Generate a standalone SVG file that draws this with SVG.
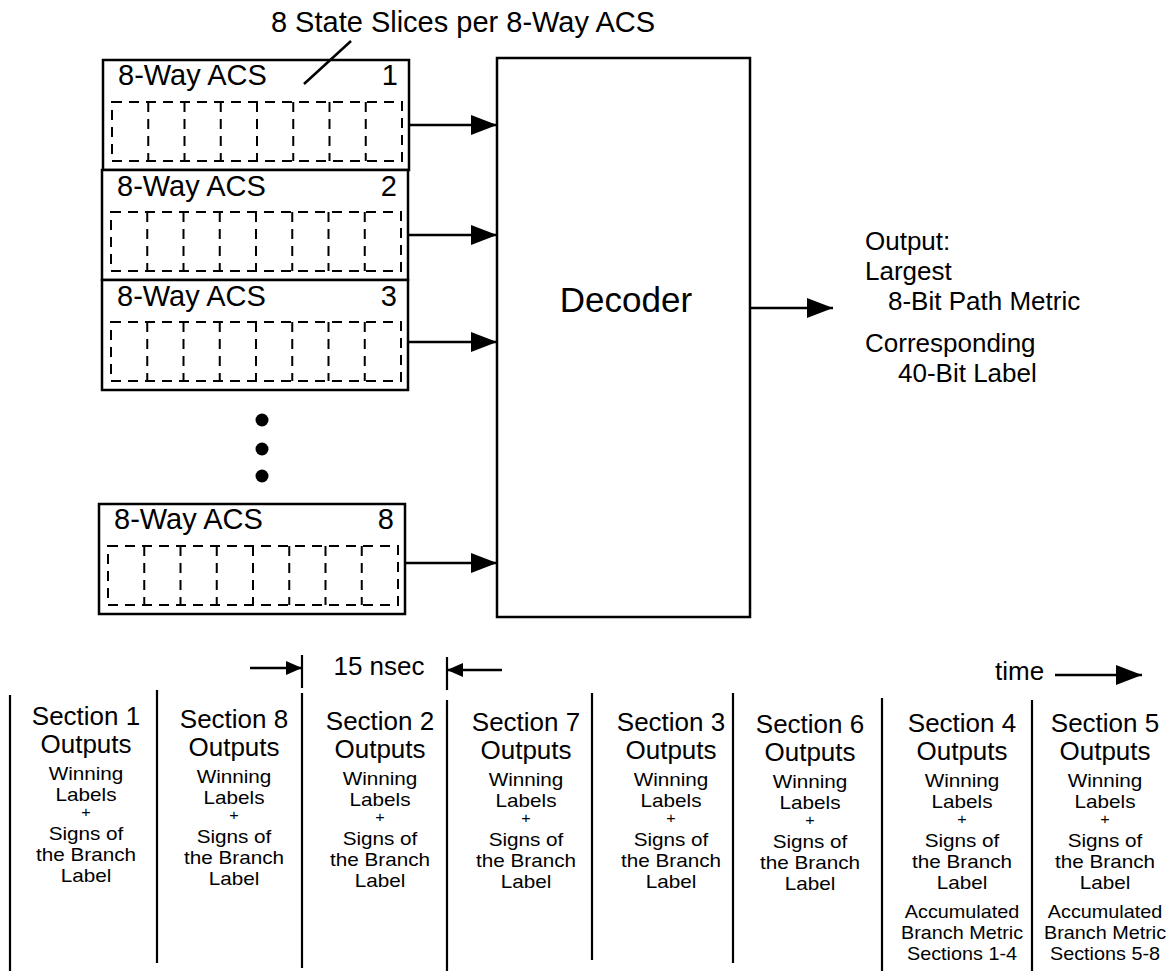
<svg xmlns="http://www.w3.org/2000/svg" width="1172" height="971" viewBox="0 0 1172 971">
  <style>
    .bg { fill: #ffffff; }
    .box { fill: #ffffff; stroke: #000000; stroke-width: 2.5; }
    .slice { fill: none; stroke: #000000; stroke-width: 2; stroke-dasharray: 10 7; }
    .wire { fill: none; stroke: #000000; stroke-width: 2.5; }
    .rule { fill: none; stroke: #000000; stroke-width: 2.2; }
    text { font-family: "Liberation Sans", Arial, Helvetica, sans-serif; fill: #000000; }
    .title { font-size: 29px; }
    .acs { font-size: 29px; }
    .dec { font-size: 35px; }
    .out { font-size: 26px; }
    .head { font-size: 26px; text-anchor: middle; }
    .small { font-size: 18px; text-anchor: middle; }
    .plus { font-size: 14px; text-anchor: middle; }
    .mid { text-anchor: middle; }
    .end { text-anchor: end; }
  </style>
  <defs>
    <marker id="arrow" markerUnits="userSpaceOnUse" markerWidth="28" markerHeight="22" refX="26" refY="10" orient="auto">
      <path d="M0,0 L26,10 L0,20 z" fill="#000000"/>
    </marker>
    <marker id="arrowSmall" markerUnits="userSpaceOnUse" markerWidth="18" markerHeight="16" refX="16" refY="7" orient="auto">
      <path d="M0,0 L16,7 L0,14 z" fill="#000000"/>
    </marker>
    <!-- 8 dashed state slices of one ACS -->
    <g id="slices">
      <rect class="slice" x="0" y="0" width="290" height="59"/>
      <path class="slice" d="M36.25,0 V59 M72.5,0 V59 M108.75,0 V59 M145,0 V59 M181.25,0 V59 M217.5,0 V59 M253.75,0 V59"/>
    </g>
  </defs>

  <rect class="bg" x="0" y="0" width="1172" height="971"/>

  <g id="acs1">
    <rect class="box" x="103" y="60" width="306" height="110"/>
    <text class="acs" x="118" y="85">8-Way ACS</text>
    <text class="acs end" x="398" y="85">1</text>
    <use href="#slices" x="112" y="102"/>
  </g>
  <g id="acs2">
    <rect class="box" x="102" y="170" width="306" height="110"/>
    <text class="acs" x="117" y="196">8-Way ACS</text>
    <text class="acs end" x="397" y="196">2</text>
    <use href="#slices" x="111" y="212"/>
  </g>
  <g id="acs3">
    <rect class="box" x="102" y="280" width="306" height="110"/>
    <text class="acs" x="117" y="306">8-Way ACS</text>
    <text class="acs end" x="397" y="306">3</text>
    <use href="#slices" x="111" y="322"/>
  </g>

  <g id="ellipsis">
    <circle cx="262" cy="420" r="6.5" fill="#000000"/>
    <circle cx="262" cy="449" r="6.5" fill="#000000"/>
    <circle cx="262" cy="476" r="6.5" fill="#000000"/>
  </g>

  <g id="acs8">
    <rect class="box" x="99" y="504" width="306" height="110"/>
    <text class="acs" x="114" y="529">8-Way ACS</text>
    <text class="acs end" x="394" y="529">8</text>
    <use href="#slices" x="108" y="546"/>
  </g>

  <!-- caption with leader line into the first ACS -->
  <g id="caption">
    <text class="title mid" x="463" y="32">8 State Slices per 8-Way ACS</text>
    <line class="wire" x1="351" y1="41" x2="304" y2="84" stroke-width="2"/>
  </g>

  <g id="decoder">
    <rect class="box" x="497" y="58" width="253" height="559"/>
    <text class="dec mid" x="626" y="312">Decoder</text>
  </g>

  <g id="output">
    <text class="out" x="865" y="250">Output:</text>
    <text class="out" x="865" y="280">Largest</text>
    <text class="out" x="888" y="310">8-Bit Path Metric</text>
    <text class="out" x="865" y="352">Corresponding</text>
    <text class="out" x="898" y="382">40-Bit Label</text>
  </g>

  <g id="connectors">
    <line class="wire" x1="409" y1="125" x2="497" y2="125" marker-end="url(#arrow)"/>
    <line class="wire" x1="408" y1="235" x2="497" y2="235" marker-end="url(#arrow)"/>
    <line class="wire" x1="408" y1="342" x2="497" y2="342" marker-end="url(#arrow)"/>
    <line class="wire" x1="405" y1="563" x2="497" y2="563" marker-end="url(#arrow)"/>
    <line class="wire" x1="750" y1="308" x2="833" y2="308" marker-end="url(#arrow)"/>
  </g>

  <!-- timing strip -->
  <g id="timing">
    <line class="rule" x1="302" y1="655" x2="302" y2="688"/>
    <line class="rule" x1="447" y1="657" x2="447" y2="690"/>
    <line class="wire" x1="250" y1="668" x2="302" y2="668" marker-end="url(#arrowSmall)"/>
    <line class="wire" x1="502" y1="670" x2="447" y2="670" marker-end="url(#arrowSmall)"/>
    <text class="head" x="379" y="675">15 nsec</text>
    <text class="out" x="995" y="680">time</text>
    <line class="wire" x1="1055" y1="675" x2="1142" y2="675" marker-end="url(#arrow)"/>

    <line class="rule" x1="10" y1="695" x2="10" y2="971"/>
    <line class="rule" x1="157" y1="690" x2="157" y2="963"/>
    <line class="rule" x1="302" y1="693" x2="302" y2="968"/>
    <line class="rule" x1="447" y1="700" x2="447" y2="971"/>
    <line class="rule" x1="592" y1="693" x2="592" y2="960"/>
    <line class="rule" x1="733" y1="693" x2="733" y2="963"/>
    <line class="rule" x1="882" y1="698" x2="882" y2="971"/>
    <line class="rule" x1="1032" y1="700" x2="1032" y2="971"/>
  </g>

  <g id="section1" transform="translate(86,-5)">
    <text class="head" x="0" y="730">Section 1</text>
    <text class="head" x="0" y="758">Outputs</text>
    <g transform="scale(1.15,1)">
      <text class="small" x="0" y="785">Winning</text>
      <text class="small" x="0" y="806">Labels</text>
      <text class="plus" x="0" y="822">+</text>
      <text class="small" x="0" y="845">Signs of</text>
      <text class="small" x="0" y="866">the Branch</text>
      <text class="small" x="0" y="887">Label</text>
    </g>
  </g>
  <g id="section8" transform="translate(234,-2)">
    <text class="head" x="0" y="730">Section 8</text>
    <text class="head" x="0" y="758">Outputs</text>
    <g transform="scale(1.15,1)">
      <text class="small" x="0" y="785">Winning</text>
      <text class="small" x="0" y="806">Labels</text>
      <text class="plus" x="0" y="822">+</text>
      <text class="small" x="0" y="845">Signs of</text>
      <text class="small" x="0" y="866">the Branch</text>
      <text class="small" x="0" y="887">Label</text>
    </g>
  </g>
  <g id="section2" transform="translate(380,0)">
    <text class="head" x="0" y="730">Section 2</text>
    <text class="head" x="0" y="758">Outputs</text>
    <g transform="scale(1.15,1)">
      <text class="small" x="0" y="785">Winning</text>
      <text class="small" x="0" y="806">Labels</text>
      <text class="plus" x="0" y="822">+</text>
      <text class="small" x="0" y="845">Signs of</text>
      <text class="small" x="0" y="866">the Branch</text>
      <text class="small" x="0" y="887">Label</text>
    </g>
  </g>
  <g id="section7" transform="translate(526,1)">
    <text class="head" x="0" y="730">Section 7</text>
    <text class="head" x="0" y="758">Outputs</text>
    <g transform="scale(1.15,1)">
      <text class="small" x="0" y="785">Winning</text>
      <text class="small" x="0" y="806">Labels</text>
      <text class="plus" x="0" y="822">+</text>
      <text class="small" x="0" y="845">Signs of</text>
      <text class="small" x="0" y="866">the Branch</text>
      <text class="small" x="0" y="887">Label</text>
    </g>
  </g>
  <g id="section3" transform="translate(671,1)">
    <text class="head" x="0" y="730">Section 3</text>
    <text class="head" x="0" y="758">Outputs</text>
    <g transform="scale(1.15,1)">
      <text class="small" x="0" y="785">Winning</text>
      <text class="small" x="0" y="806">Labels</text>
      <text class="plus" x="0" y="822">+</text>
      <text class="small" x="0" y="845">Signs of</text>
      <text class="small" x="0" y="866">the Branch</text>
      <text class="small" x="0" y="887">Label</text>
    </g>
  </g>
  <g id="section6" transform="translate(810,3)">
    <text class="head" x="0" y="730">Section 6</text>
    <text class="head" x="0" y="758">Outputs</text>
    <g transform="scale(1.15,1)">
      <text class="small" x="0" y="785">Winning</text>
      <text class="small" x="0" y="806">Labels</text>
      <text class="plus" x="0" y="822">+</text>
      <text class="small" x="0" y="845">Signs of</text>
      <text class="small" x="0" y="866">the Branch</text>
      <text class="small" x="0" y="887">Label</text>
    </g>
  </g>
  <g id="section4" transform="translate(962,2)">
    <text class="head" x="0" y="730">Section 4</text>
    <text class="head" x="0" y="758">Outputs</text>
    <g transform="scale(1.15,1)">
      <text class="small" x="0" y="785">Winning</text>
      <text class="small" x="0" y="806">Labels</text>
      <text class="plus" x="0" y="822">+</text>
      <text class="small" x="0" y="845">Signs of</text>
      <text class="small" x="0" y="866">the Branch</text>
      <text class="small" x="0" y="887">Label</text>
    </g>
    <g transform="scale(1.1,1)">
      <text class="small" x="0" y="916">Accumulated</text>
      <text class="small" x="0" y="937">Branch Metric</text>
      <text class="small" x="0" y="958">Sections 1-4</text>
    </g>
  </g>
  <g id="section5" transform="translate(1105,2)">
    <text class="head" x="0" y="730">Section 5</text>
    <text class="head" x="0" y="758">Outputs</text>
    <g transform="scale(1.15,1)">
      <text class="small" x="0" y="785">Winning</text>
      <text class="small" x="0" y="806">Labels</text>
      <text class="plus" x="0" y="822">+</text>
      <text class="small" x="0" y="845">Signs of</text>
      <text class="small" x="0" y="866">the Branch</text>
      <text class="small" x="0" y="887">Label</text>
    </g>
    <g transform="scale(1.1,1)">
      <text class="small" x="0" y="916">Accumulated</text>
      <text class="small" x="0" y="937">Branch Metric</text>
      <text class="small" x="0" y="958">Sections 5-8</text>
    </g>
  </g>
</svg>
